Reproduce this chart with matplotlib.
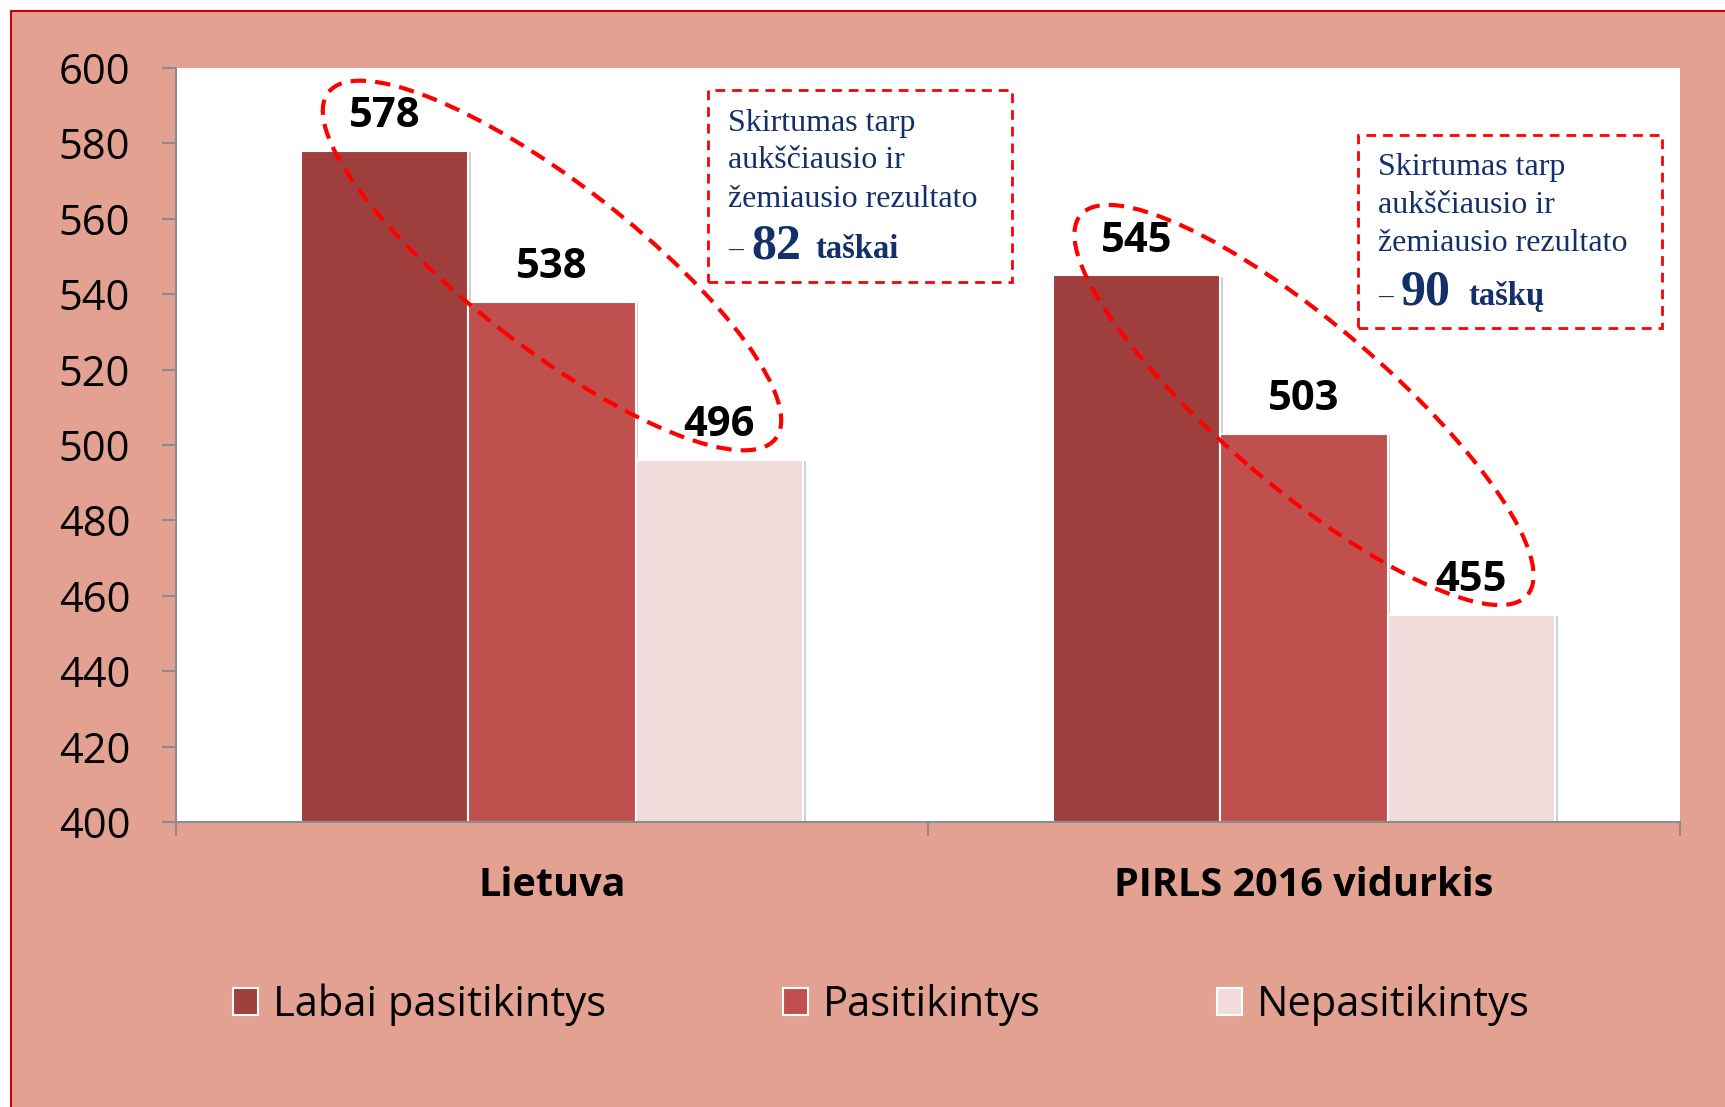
import numpy as np
import matplotlib
matplotlib.use("Agg")
import matplotlib.pyplot as plt
from matplotlib.patches import Ellipse, Rectangle
from matplotlib.transforms import IdentityTransform
import matplotlib.patheffects as pe

# ---------------- data ----------------
categories = ["Lietuva", "PIRLS 2016 vidurkis"]
series_names = ["Labai pasitikintys", "Pasitikintys", "Nepasitikintys"]
labai = [578, 545]
pasit = [538, 503]
nepas = [496, 455]
yticks = [400, 420, 440, 460, 480, 500, 520, 540, 560, 580, 600]
box_lines = ["Skirtumas tarp", "aukščiausio ir", "žemiausio rezultato"]
box_numbers = ["82", "90"]
box_units = ["taškai", "taškų"]

colors = ["#9E3F3E", "#C0504D", "#F2DCDB"]
salmon = "#E3A192"
navy = "#14306A"
W, H = 1725, 1107
DPI = 100

fig = plt.figure(figsize=(W / DPI, H / DPI), dpi=DPI, facecolor="white")
bg = Rectangle((11 / W, -0.1), 1.2, 1 - 11 / H + 0.1,
               transform=fig.transFigure, facecolor=salmon,
               edgecolor="#CC0000", linewidth=1.5, zorder=-10)
fig.patches.append(bg)

ax_l, ax_r, ax_t, ax_b = 176, 1680, 68, 822
ax = fig.add_axes([ax_l / W, 1 - ax_b / H, (ax_r - ax_l) / W, (ax_b - ax_t) / H])
ax.set_zorder(1)
ax.set_facecolor("white")
ax.set_xlim(-0.5, 1.5)
ax.set_ylim(400, 600)

x = np.arange(len(categories))
bw = 0.2225
series = [labai, pasit, nepas]
shadow = [pe.SimplePatchShadow(offset=(2, -1), shadow_rgbFace="#808080", alpha=0.35), pe.Normal()]
for i, (vals, c, name) in enumerate(zip(series, colors, series_names)):
    xs = x + (i - 1) * bw
    bars = ax.bar(xs, np.array(vals) - 400, bottom=400, width=bw, color=c,
                  edgecolor="white", linewidth=1.5, label=name, zorder=2)
    for b in bars:
        b.set_path_effects(shadow)
    for xx, v in zip(xs, vals):
        ax.annotate(str(v), (xx, v), xytext=(0, 17), textcoords="offset points",
                    ha="center", va="baseline", fontsize=30, fontweight="bold",
                    family="Open Sans", color="black", zorder=5)

# axes styling
for s in ["top", "right"]:
    ax.spines[s].set_visible(False)
for s in ["left", "bottom"]:
    ax.spines[s].set_color("#8C8C8C")
    ax.spines[s].set_linewidth(1.5)
ax.set_yticks(yticks)
ax.set_yticklabels([str(t) for t in yticks], fontsize=30, family="Open Sans")
ax.tick_params(axis="y", length=10, width=1.5, color="#8C8C8C", pad=23)
ax.set_xticks(x)
ax.set_xticklabels(categories, fontsize=28.5, fontweight="bold", family="Open Sans")
ax.tick_params(axis="x", which="major", length=0, pad=32)
ax.set_xticks([-0.5, 0.5, 1.5], minor=True)
ax.tick_params(axis="x", which="minor", length=10, width=1.5, color="#8C8C8C")

# dashed ellipses around value labels
for g in range(len(categories)):
    p1 = ax.transData.transform((x[g] - bw, labai[g]))
    p3 = ax.transData.transform((x[g] + bw, nepas[g]))
    cx, cy = (p1 + p3) / 2
    cy += 40
    dx, dy = p3 - p1
    ang = np.degrees(np.arctan2(dy, dx)) + 5
    half = np.hypot(dx, dy) / 2
    e = Ellipse((cx, cy), width=2 * (half + 55), height=2 * 82, angle=ang,
                transform=IdentityTransform(), fill=False, edgecolor="#FF0000",
                linewidth=3.0, linestyle=(0, (3.7, 2.2)), zorder=6, clip_on=False)
    ax.add_artist(e)

# dashed text boxes
boxes = [
    dict(x0=0.3537, x1=0.5559, y0=0.7162, y1=0.9708, tx=0.367,
         ys=[0.9164, 0.8674, 0.8156], ylast=0.748, xnum=0.3823, xunit=0.4249),
    dict(x0=0.7859, x1=0.9880, y0=0.6552, y1=0.9111, tx=0.7992,
         ys=[0.8581, 0.8077, 0.7573], ylast=0.6857, xnum=0.8145, xunit=0.8591),
]
for k, bx in enumerate(boxes):
    r = Rectangle((bx["x0"], bx["y0"]), bx["x1"] - bx["x0"], bx["y1"] - bx["y0"],
                  transform=ax.transAxes, fill=False, edgecolor="#FF0000",
                  linewidth=2.0, linestyle=(0, (3.5, 2.5)), zorder=6, clip_on=False)
    ax.add_patch(r)
    for line, yy in zip(box_lines, bx["ys"]):
        ax.text(bx["tx"], yy, line, transform=ax.transAxes, fontsize=23,
                family="Liberation Serif", color=navy, va="baseline", ha="left", zorder=7)
    ax.text(bx["tx"], bx["ylast"], "–", transform=ax.transAxes, fontsize=21,
            family="Liberation Serif", color=navy, va="baseline", ha="left", zorder=7)
    ax.text(bx["xnum"], bx["ylast"], box_numbers[k], transform=ax.transAxes, fontsize=36,
            fontweight="bold", family="Liberation Serif", color=navy, va="baseline", ha="left", zorder=7)
    ax.text(bx["xunit"], bx["ylast"], box_units[k], transform=ax.transAxes, fontsize=23.5,
            fontweight="bold", family="Liberation Serif", color=navy, va="baseline", ha="left", zorder=7)

# legend
handles, labels = ax.get_legend_handles_labels()
leg = fig.legend(handles, labels, loc="center", bbox_to_anchor=(0.511, 1 - 1005 / H),
                 ncol=3, frameon=False, prop=dict(family="Open Sans", size=30),
                 handlelength=0.6, handleheight=0.6, handletextpad=0.35,
                 columnspacing=4.25)
for h in leg.legend_handles:
    h.set_path_effects([])
    h.set_edgecolor("white")
    h.set_linewidth(1.5)

fig.savefig("out.png", dpi=DPI, facecolor="white")
